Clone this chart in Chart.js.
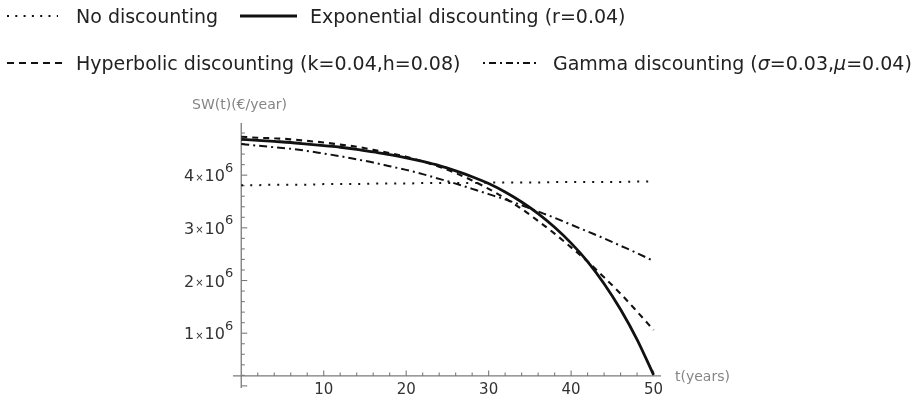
<!DOCTYPE html>
<html><head><meta charset="utf-8">
<script src="https://cdn.jsdelivr.net/npm/chart.js@4.4.1/dist/chart.umd.min.js"></script>
<style>
html,body{margin:0;padding:0;background:#fff;width:921px;height:399px;overflow:hidden;}
#wrap{position:relative;width:921px;height:399px;}
#c{position:absolute;left:0;top:0;}
.leg{position:absolute;font-family:"DejaVu Sans",sans-serif;font-size:19px;color:#222;white-space:nowrap;line-height:19px;}
#legsvg{position:absolute;left:0;top:0;}
</style></head>
<body><div id="wrap"><canvas id="c" width="921" height="399"></canvas>
<svg id="legsvg" width="921" height="90"></svg>
<div id="legend"></div></div>
<script>
// ---- data (values in units of 10^6 €/year) ----
const years = [0,2,4,6,8,10,12,14,16,18,20,22,24,26,28,30,32,34,36,38,40,42,44,46,48,50];
const noDiscounting = [3.81,3.81,3.82,3.82,3.82,3.83,3.83,3.83,3.84,3.84,3.84,3.85,3.85,3.85,3.85,3.86,3.86,3.86,3.86,3.87,3.87,3.87,3.87,3.87,3.88,3.88];
const exponential = [4.68,4.66,4.64,4.62,4.59,4.56,4.53,4.49,4.44,4.39,4.33,4.26,4.18,4.08,3.97,3.84,3.68,3.49,3.27,3.01,2.71,2.36,1.94,1.45,0.88,0.21];
const hyperbolic = [4.73,4.71,4.70,4.68,4.65,4.62,4.58,4.54,4.48,4.42,4.35,4.26,4.16,4.04,3.90,3.74,3.56,3.36,3.13,2.89,2.63,2.36,2.06,1.75,1.41,1.06];
const gamma = [4.59,4.56,4.53,4.50,4.46,4.41,4.36,4.30,4.24,4.17,4.10,4.02,3.93,3.84,3.74,3.64,3.54,3.43,3.31,3.19,3.06,2.93,2.80,2.66,2.52,2.37];
const seriesNames = ['No discounting','Exponential discounting (r=0.04)','Hyperbolic discounting (k=0.04,h=0.08)','Gamma discounting (<i>σ</i>=0.03,<i>μ</i>=0.04)'];
const xTickLabels = [10,20,30,40,50];
const yTickLabels = [1,2,3,4];
const xAxisTitle = 't(years)';
const yAxisTitle = 'SW(t)(€/year)';

// ---- styles ----
const styles = [
  {dash:[2,7], width:2},
  {dash:[], width:2.8},
  {dash:[6,5], width:2.1},
  {dash:[8,4,2,4], width:2}
];
const allSeries = [noDiscounting, exponential, hyperbolic, gamma];
const xAxisAt = 0.19;

// ---- legend (HTML text + SVG samples) ----
const legPos = [
  {sx:7, ex:58, y:16, tx:76, ty:7, dash:'2 6.3'},
  {sx:240, ex:297, y:16, tx:310, ty:7, dash:''},
  {sx:7, ex:62, y:63, tx:76, ty:54, dash:'7 5'},
  {sx:483, ex:539, y:63, tx:553, ty:54, dash:'2 4 7 4'}
];
const svg = document.getElementById('legsvg');
const legDiv = document.getElementById('legend');
seriesNames.forEach((name,i)=>{
  const p = legPos[i];
  const ln = document.createElementNS('http://www.w3.org/2000/svg','line');
  ln.setAttribute('x1',p.sx); ln.setAttribute('x2',p.ex);
  ln.setAttribute('y1',p.y); ln.setAttribute('y2',p.y);
  ln.setAttribute('stroke','#111');
  ln.setAttribute('stroke-width', i===1?3:2);
  if(p.dash) ln.setAttribute('stroke-dasharray',p.dash);
  svg.appendChild(ln);
  const d = document.createElement('div');
  d.className='leg'; d.style.left=p.tx+'px'; d.style.top=p.ty+'px';
  d.innerHTML = name;
  legDiv.appendChild(d);
});

// ---- axes plugin (Mathematica-like axes drawn from the chart's scales) ----
const axesPlugin = {
  id:'mmaAxes',
  beforeDatasetsDraw(chart){
    const ctx = chart.ctx, xs = chart.scales.x, ys = chart.scales.y;
    const x0 = xs.getPixelForValue(0), yAx = ys.getPixelForValue(xAxisAt);
    ctx.save();
    ctx.strokeStyle = '#7a7a7a'; ctx.lineWidth = 1.3;
    ctx.beginPath(); ctx.moveTo(xs.left, yAx); ctx.lineTo(xs.right, yAx); ctx.stroke();
    ctx.beginPath(); ctx.moveTo(x0, ys.top); ctx.lineTo(x0, ys.bottom); ctx.stroke();
    ctx.lineWidth = 1.1;
    for(let i=1;i<=25;i++){
      const t = i*2, p = xs.getPixelForValue(t);
      const L = xTickLabels.includes(t) ? 5.5 : 3.5;
      ctx.beginPath(); ctx.moveTo(p, yAx); ctx.lineTo(p, yAx - L); ctx.stroke();
    }
    for(let i=0;i<=24;i++){
      const v = i/5, p = ys.getPixelForValue(v);
      const L = (i%5===0) ? 6 : 3.5;
      ctx.beginPath(); ctx.moveTo(x0, p); ctx.lineTo(x0 + L, p); ctx.stroke();
    }
    ctx.fillStyle = '#333';
    ctx.font = '15px "DejaVu Sans"';
    ctx.textAlign = 'center'; ctx.textBaseline = 'middle';
    xTickLabels.forEach(t=>{ ctx.fillText(String(t), xs.getPixelForValue(t), yAx + 14); });
    yTickLabels.forEach(n=>{
      const py = ys.getPixelForValue(n) + 2;
      const right = x0 - 8;
      ctx.textBaseline = 'middle'; ctx.textAlign = 'left';
      ctx.font = '13px "DejaVu Sans"'; const wSup = ctx.measureText('6').width;
      ctx.font = '16px "DejaVu Sans"'; const wTen = ctx.measureText('10').width; const wN = ctx.measureText(String(n)).width;
      ctx.font = '10px "DejaVu Sans"'; const wX = ctx.measureText('×').width;
      let x = right - wSup - wTen - wX - wN - 2;
      ctx.font = '16px "DejaVu Sans"'; ctx.fillText(String(n), x, py); x += wN + 1;
      ctx.font = '10px "DejaVu Sans"'; ctx.fillText('×', x, py + 1); x += wX + 1;
      ctx.font = '16px "DejaVu Sans"'; ctx.fillText('10', x, py); x += wTen;
      ctx.font = '13px "DejaVu Sans"'; ctx.fillText('6', x, py - 9);
    });
    ctx.fillStyle = '#858585';
    ctx.font = '14px "DejaVu Sans"';
    ctx.textAlign = 'left'; ctx.textBaseline = 'middle';
    ctx.fillText(yAxisTitle, 192, ys.top - 18);
    ctx.fillText(xAxisTitle, xs.right + 14, yAx + 1);
    ctx.restore();
  }
};

const datasets = allSeries.map((vals,i)=>({
  label: seriesNames[i],
  data: years.map((t,k)=>({x:t, y:vals[k]})),
  borderColor:'#111',
  borderWidth: styles[i].width,
  borderDash: styles[i].dash,
  borderCapStyle:'butt',
  pointRadius:0,
  fill:false,
  cubicInterpolationMode:'monotone'
}));

new Chart(document.getElementById('c'), {
  type:'line',
  data:{datasets},
  options:{
    responsive:false, animation:false, devicePixelRatio:1,
    layout:{padding:{left:233, top:123, right:260, bottom:11}},
    plugins:{legend:{display:false}, tooltip:{enabled:false}},
    scales:{
      x:{type:'linear', min:-1, max:50.9, display:false},
      y:{type:'linear', min:-0.04, max:4.99, display:false}
    }
  },
  plugins:[axesPlugin]
});
</script>
</body></html>
